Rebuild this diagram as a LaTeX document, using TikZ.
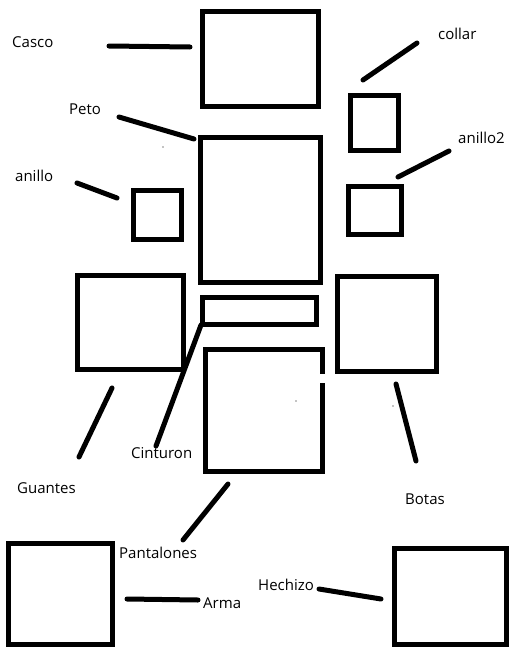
\documentclass[tikz,border=0pt]{standalone}
\usepackage{fontspec}
\setmainfont{Open Sans}
\begin{document}
\begin{tikzpicture}[x=1pt,y=-1pt,
  box/.style={draw, line width=5pt, inner sep=0pt, minimum width=#1},
  lbl/.style={inner sep=0pt, anchor=base west, font=\fontsize{15}{18}\selectfont},
  link/.style={line width=5pt, line cap=round},
  speck/.style={fill=black}]
\useasboundingbox (0,0) rectangle (509,648);
% boxes
\node[box=116pt, minimum height=95.5pt] (casco) at (260.5,58.75) {};
\node[box=48pt, minimum height=54.5pt] (collar) at (374,122.75) {};
\node[box=119.5pt, minimum height=145pt] (peto) at (260.25,210) {};
\node[box=48pt, minimum height=49pt] (anillo) at (157,214.5) {};
\node[box=53pt, minimum height=47.5pt] (anillo2) at (374.5,210.25) {};
\node[box=106pt, minimum height=94pt] (guantes) at (130.5,322) {};
\node[box=114pt, minimum height=27pt] (cinturon) at (259.5,311) {};
\node[box=99pt, minimum height=95pt] (botas) at (387,324) {};
\node[box=117pt, minimum height=122pt] (pantalones) at (264,410) {};
\fill[white] (318,374) rectangle (327,383);
\node[box=104pt, minimum height=101pt] (arma) at (60.5,593.5) {};
\node[box=112pt, minimum height=96.5pt] (hechizo) at (450.5,596.25) {};
% labels
\node[lbl] (tcasco) at (12,47) {Casco};
\node[lbl] (tpeto) at (69,114) {Peto};
\node[lbl] (tcollar) at (438,39) {collar};
\node[lbl] (tanillo2) at (458,143) {anillo2};
\node[lbl] (tanillo) at (15,181) {anillo};
\node[lbl] (tguantes) at (17,493) {Guantes};
\node[lbl] (tcinturon) at (131,458) {Cinturon};
\node[lbl] (tbotas) at (405,504) {Botas};
\node[lbl] (tpantalones) at (119,558) {Pantalones};
\node[lbl] (tarma) at (203,608) {Arma};
\node[lbl] (thechizo) at (258,590) {Hechizo};
% connector ends
\coordinate (c1a) at (109,46);  \coordinate (c1b) at (190,47);
\coordinate (c2a) at (119,117); \coordinate (c2b) at (194,139);
\coordinate (c3a) at (363,80);  \coordinate (c3b) at (417,43);
\coordinate (c4a) at (398,177); \coordinate (c4b) at (449,151);
\coordinate (c5a) at (77,183);  \coordinate (c5b) at (117,198);
\coordinate (c6a) at (112,388); \coordinate (c6b) at (79,457);
\coordinate (c7a) at (201,325); \coordinate (c7b) at (156,446);
\coordinate (c8a) at (396,384); \coordinate (c8b) at (416,461);
\coordinate (c9a) at (228,484); \coordinate (c9b) at (183,540);
\coordinate (c10a) at (127,599); \coordinate (c10b) at (198,600);
\coordinate (c11a) at (319,589); \coordinate (c11b) at (381,599);
\draw[link] (c1a) -- (c1b);
\draw[link] (c2a) -- (c2b);
\draw[link] (c3a) -- (c3b);
\draw[link] (c4a) -- (c4b);
\draw[link] (c5a) -- (c5b);
\draw[link] (c6a) -- (c6b);
\draw[link] (c7a) -- (c7b);
\draw[link] (c8a) -- (c8b);
\draw[link] (c9a) -- (c9b);
\draw[link] (c10a) -- (c10b);
\draw[link] (c11a) -- (c11b);
% specks
\fill[speck] (163,147) circle (0.6);
\fill[speck] (296,401) circle (0.6);
\fill[speck] (393,406) circle (0.6);
\end{tikzpicture}
\end{document}
